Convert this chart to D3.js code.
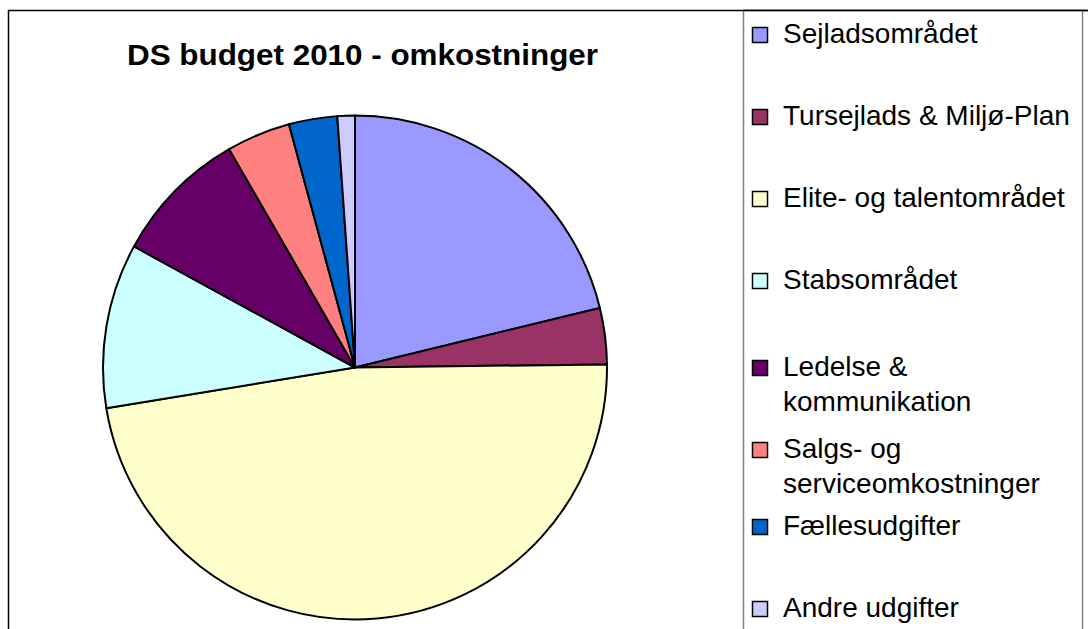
<!DOCTYPE html>
<html>
<head>
<meta charset="utf-8">
<script src="https://cdn.jsdelivr.net/npm/d3@7"></script>
<style>
  html, body { margin: 0; padding: 0; background: #fff; overflow: hidden; }
  svg { display: block; }
</style>
</head>
<body>
<svg id="chart" width="1088" height="629"></svg>
<script>
const title = "DS budget 2010 - omkostninger";
const categories = [
  "Sejladsområdet",
  "Tursejlads & Miljø-Plan",
  "Elite- og talentområdet",
  "Stabsområdet",
  "Ledelse & kommunikation",
  "Salgs- og serviceomkostninger",
  "Fællesudgifter",
  "Andre udgifter"
];
const legendLines = [
  ["Sejladsområdet"],
  ["Tursejlads & Miljø-Plan"],
  ["Elite- og talentområdet"],
  ["Stabsområdet"],
  ["Ledelse &", "kommunikation"],
  ["Salgs- og", "serviceomkostninger"],
  ["Fællesudgifter"],
  ["Andre udgifter"]
];
const values = [21.2, 3.6, 47.6, 10.55, 8.7, 4.1, 3.1, 1.12];
const colors = ["#9999FF", "#993366", "#FFFFCC", "#CCFFFF", "#660066", "#FF8080", "#0066CC", "#CCCCFF"];

const svg = d3.select("#chart");
const font = "'Liberation Sans', Arial, sans-serif";

// outer frame
svg.append("path")
  .attr("d", "M8.5,640 L8.5,10.5 L1100,10.5")
  .attr("fill", "none").attr("stroke", "#000").attr("stroke-width", 1.5);

// legend box
svg.append("rect")
  .attr("x", 743.5).attr("y", 10.5).attr("width", 339).attr("height", 700)
  .attr("fill", "#fff").attr("stroke", "#808080").attr("stroke-width", 1.5);
svg.append("line").attr("x1", 743).attr("x2", 1100).attr("y1", 10.5).attr("y2", 10.5)
  .attr("stroke", "#000").attr("stroke-width", 1.5);

// title
svg.append("text")
  .attr("x", 362.5).attr("y", 65)
  .attr("text-anchor", "middle")
  .attr("font-family", font).attr("font-weight", "bold").attr("font-size", 29)
  .attr("textLength", 471).attr("lengthAdjust", "spacingAndGlyphs")
  .attr("fill", "#000")
  .text(title);

// pie
const cx = 355, cy = 367.5, r = 252;
const pie = d3.pie().sort(null).value(d => d);
const arc = d3.arc().innerRadius(0).outerRadius(r);
const color = d3.scaleOrdinal().domain(categories).range(colors);

svg.append("g").attr("transform", `translate(${cx},${cy})`)
  .selectAll("path")
  .data(pie(values))
  .join("path")
  .attr("d", arc)
  .attr("fill", (d, i) => color(categories[i]))
  .attr("stroke", "#000")
  .attr("stroke-width", 2)
  .attr("stroke-linejoin", "round");

// legend
const lg = svg.append("g");
const step = 82;
const lineH = 35;
legendLines.forEach((lines, i) => {
  const base = 43 + i * step + (lines.length > 1 ? 5 : 0);
  lg.append("rect")
    .attr("x", 752.5).attr("y", base - 15.5)
    .attr("width", 15).attr("height", 15)
    .attr("fill", color(categories[i]))
    .attr("stroke", "#000").attr("stroke-width", 1.5);
  lines.forEach((t, j) => {
    lg.append("text")
      .attr("x", 783).attr("y", base + j * lineH)
      .attr("font-family", font).attr("font-size", 28)
      .attr("fill", "#000")
      .text(t);
  });
});
</script>
</body>
</html>
